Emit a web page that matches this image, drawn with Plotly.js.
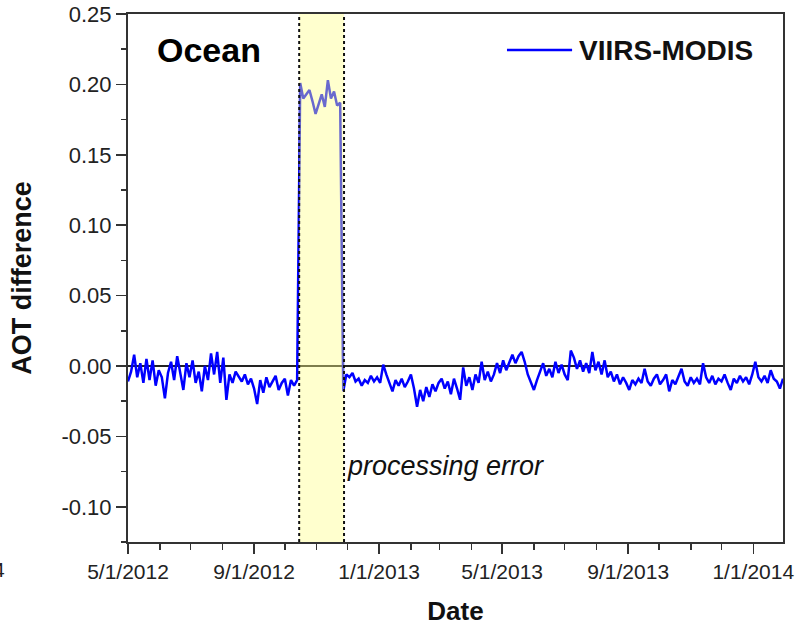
<!DOCTYPE html>
<html>
<head>
<meta charset="utf-8">
<script src="https://cdn.plot.ly/plotly-3.0.1.min.js"></script>
<style>html,body{margin:0;padding:0;background:#fff;}#chart{width:795px;height:627px;}</style>
</head>
<body>
<div id="chart"></div>
<script>
// ---- data ----
const startDate = '2012-05-01';   // first sample
const stepDays = 3;               // sampling interval of the series (days)

// AOT difference (VIIRS - MODIS), before the processing-error period
const beforeError = [
  -0.011,-0.004,0.008,-0.008,0.002,-0.012,0.005,-0.010,0.004,-0.014,
  -0.003,-0.008,-0.023,-0.005,0.003,-0.010,0.007,-0.006,-0.017,0.002,
  -0.008,0.004,-0.012,-0.004,-0.018,0.000,-0.010,0.009,-0.006,0.010,
  -0.012,0.006,-0.024,-0.006,-0.012,-0.004,-0.008,-0.011,-0.006,-0.013,
  -0.009,-0.016,-0.027,-0.010,-0.019,-0.008,-0.015,-0.011,-0.007,-0.017,
  -0.012,-0.009,-0.021,-0.010,-0.014,-0.010
];
// during the processing-error period
const duringError = [
  0.201,0.190,0.193,0.196,0.188,0.179,0.186,0.193,0.184,0.203,0.190,0.195,0.185,0.187
];
// after the processing-error period
const afterError = [
  -0.018,-0.006,-0.008,-0.005,-0.011,-0.009,-0.014,-0.010,-0.012,-0.007,
  -0.011,-0.008,-0.012,0.001,-0.006,-0.012,-0.018,-0.010,-0.014,-0.009,
  -0.015,-0.011,-0.006,-0.016,-0.029,-0.017,-0.025,-0.015,-0.022,-0.013,
  -0.018,-0.012,-0.009,-0.016,-0.011,-0.020,-0.009,-0.016,-0.024,-0.001,
  -0.014,-0.008,-0.017,-0.006,-0.012,0.003,-0.010,-0.004,-0.011,-0.006,
  0.002,-0.005,0.004,-0.003,0.003,0.008,0.002,0.007,0.010,0.003,
  -0.006,-0.012,-0.017,-0.010,-0.004,0.002,-0.007,-0.002,-0.008,0.003,
  -0.005,0.001,-0.006,-0.010,0.011,0.006,-0.002,0.004,-0.004,0.002,
  -0.005,0.010,-0.003,0.003,-0.006,0.004,-0.008,-0.004,-0.011,-0.006,
  -0.013,-0.008,-0.012,-0.017,-0.010,-0.013,-0.009,-0.012,-0.002,-0.011,
  -0.014,-0.009,-0.006,-0.013,-0.010,-0.006,-0.018,-0.010,-0.013,-0.007,
  -0.002,-0.011,-0.014,-0.008,-0.012,-0.009,-0.013,0.002,-0.008,-0.012,
  -0.007,-0.013,-0.009,-0.011,-0.006,-0.012,-0.017,-0.009,-0.012,-0.007,
  -0.011,-0.008,-0.013,-0.006,0.003,-0.008,-0.011,-0.007,-0.012,-0.003,
  -0.009,-0.011,-0.016,-0.009
];

const errorPeriod = ['2012-10-15', '2012-11-27 18:00'];
const xRange = ['2012-05-01', '2014-01-30'];
const xTickVals = ['2012-05-01','2012-09-01','2013-01-01','2013-05-01','2013-09-01','2014-01-01'];
const xTickText = ['5/1/2012','9/1/2012','1/1/2013','5/1/2013','9/1/2013','1/1/2014'];
const yTickVals = [-0.10,-0.05,0.00,0.05,0.10,0.15,0.20,0.25];
const yTickText = ['-0.10','-0.05','0.00','0.05','0.10','0.15','0.20','0.25'];
const seriesName = 'VIIRS-MODIS';

// ---- build ----
const values = beforeError.concat(duringError, afterError);
const t0 = Date.parse(startDate + 'T00:00:00Z');
const dates = values.map((v, i) => new Date(t0 + i * stepDays * 86400000).toISOString().slice(0, 10));

const FONT = 'Liberation Sans, Arial, Helvetica, sans-serif';
const AX = '#333333';

const trace = {
  x: dates, y: values, type: 'scatter', mode: 'lines', name: seriesName,
  line: {color: '#0000ff', width: 2.5}, showlegend: false, hoverinfo: 'skip'
};

const layout = {
  width: 795, height: 627,
  margin: {l: 128, r: 12, t: 14, b: 85},
  paper_bgcolor: '#ffffff', plot_bgcolor: '#ffffff',
  font: {family: FONT, color: '#222'},
  xaxis: {
    type: 'date', range: xRange, tickmode: 'array', tickvals: xTickVals, ticktext: xTickText,
    ticks: 'outside', ticklen: 10, tickwidth: 1.5, tickcolor: AX,
    showline: true, linecolor: AX, linewidth: 2, mirror: true,
    showgrid: false, zeroline: false,
    tickfont: {family: FONT, size: 21, color: '#222'},
    minor: {dtick: 'M1', tick0: '2012-05-01', ticks: 'outside', ticklen: 6, tickwidth: 1.5, tickcolor: AX, showgrid: false},
    title: {text: 'Date', font: {family: FONT, size: 26, weight: 'bold', color: '#111'}, standoff: 20}
  },
  yaxis: {
    range: [-0.125, 0.25], tickmode: 'array', tickvals: yTickVals, ticktext: yTickText,
    ticks: 'outside', ticklen: 10, tickwidth: 1.5, tickcolor: AX,
    showline: true, linecolor: AX, linewidth: 2, mirror: true,
    showgrid: false, zeroline: true, zerolinecolor: '#222', zerolinewidth: 1.5,
    tickfont: {family: FONT, size: 22, color: '#222'},
    minor: {dtick: 0.025, tick0: 0, ticks: 'outside', ticklen: 5, tickwidth: 1.5, tickcolor: AX, showgrid: false},
    title: {text: 'AOT difference', font: {family: FONT, size: 27, weight: 'bold', color: '#111'}, standoff: 22}
  },
  shapes: [
    {type: 'rect', xref: 'x', yref: 'paper', x0: errorPeriod[0], x1: errorPeriod[1], y0: 0, y1: 1,
     fillcolor: 'rgb(255,255,135)', opacity: 0.41, line: {width: 0}, layer: 'above'},
    {type: 'line', xref: 'x', yref: 'paper', x0: errorPeriod[0], x1: errorPeriod[0], y0: 0, y1: 1,
     line: {color: '#111', width: 2, dash: 'dot'}, layer: 'above'},
    {type: 'line', xref: 'x', yref: 'paper', x0: errorPeriod[1], x1: errorPeriod[1], y0: 0, y1: 1,
     line: {color: '#111', width: 2, dash: 'dot'}, layer: 'above'},
    // legend sample line
    {type: 'line', xref: 'paper', yref: 'paper', x0: 0.5786, x1: 0.678, y0: 0.932, y1: 0.932,
     line: {color: '#0000ff', width: 2.5}}
  ],
  annotations: [
    {text: 'Ocean', xref: 'paper', yref: 'paper', x: 0.0415, y: 0.932, xanchor: 'left', yanchor: 'middle',
     showarrow: false, font: {family: FONT, size: 34, weight: 'bold', color: '#000'}},
    {text: seriesName, xref: 'paper', yref: 'paper', x: 0.685, y: 0.930, xanchor: 'left', yanchor: 'middle',
     showarrow: false, font: {family: FONT, size: 28, weight: 'bold', color: '#111'}},
    {text: 'processing error', xref: 'paper', yref: 'paper', x: 0.331, y: 0.144, xanchor: 'left', yanchor: 'middle',
     showarrow: false, font: {family: FONT, size: 27, style: 'italic', color: '#111'}},
    {text: '4', xref: 'paper', yref: 'paper', x: -0.185, y: -0.053, xanchor: 'right', yanchor: 'middle',
     showarrow: false, font: {family: FONT, size: 21, color: '#222'}}
  ]
};

Plotly.newPlot('chart', [trace], layout, {staticPlot: true, displayModeBar: false});
</script>
</body>
</html>
